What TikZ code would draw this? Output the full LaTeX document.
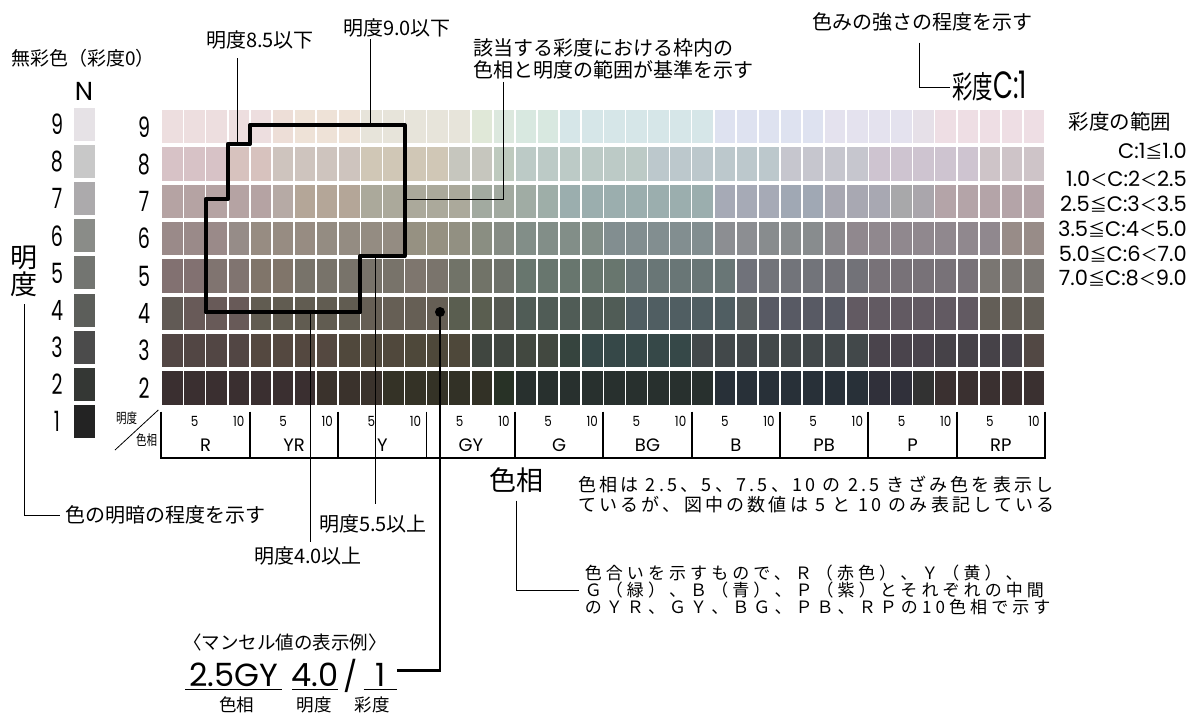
\documentclass[tikz,border=0pt]{standalone}
\usepackage{fontspec}
\setmainfont{Noto Sans CJK JP}
\newfontfamily\jp{Noto Sans CJK JP}
\newfontfamily\jpc[FakeStretch=0.75]{Noto Sans CJK JP}
\newfontfamily\jpcc[FakeStretch=0.66]{Noto Sans CJK JP}
\newfontfamily\jpt[LetterSpace=18]{Noto Sans CJK JP}
\newfontfamily\jpu[LetterSpace=24]{Noto Sans CJK JP}
\newfontfamily\fut{Poppins}
\newfontfamily\futc[FakeStretch=0.68]{Poppins}
\newfontfamily\futm[FakeStretch=0.85]{Poppins}
\newcommand\fsz[2]{\fontsize{#1}{#2}\selectfont}
\newcommand\myle{{\jp\fsz{17}{17}≦}}
\newcommand\mylt{{\jp\fsz{17}{17}＜}}
\tikzset{
  lbl/.style={inner sep=0pt, font=\jp\fsz{20}{22}},
  numb/.style={inner sep=0pt, font=\futc\fsz{28}{28}},
  lead/.style={line width=1pt},
  axisl/.style={line width=1.8pt},
  rng/.style={anchor=east, inner sep=0pt, font=\fut\fsz{21}{21}},
  huel/.style={inner sep=0pt, font=\fut\fsz{18}{18}},
  tick/.style={inner sep=0pt, font=\futm\fsz{14}{14}},
  big/.style={inner sep=0pt, font=\fut\fsz{32}{32}},
}
\begin{document}
\begin{tikzpicture}[x=1pt,y=-1pt]
\useasboundingbox (0,0) rectangle (1189,713);
\fill[white] (0,0) rectangle (1189,713);

% ---------- colour grid ----------
\foreach \v/\segs in {
 9/{0/4/EDDEDF,5/5/EDDED7,6/8/EEE2D7,9/13/E7E4DA,14/14/E0E8D8,15/15/DCE8DE,16/17/D8E8E0,18/24/D6E6E8,25/29/DEE2F0,30/33/E4E2EE,34/34/E6E0E8,35/39/EEDEE4},
 8/{0/2/D7C2C6,3/4/D7C2BE,5/8/CEC4BE,9/12/D0C7B6,13/14/C6C6BE,15/15/BECABE,16/21/BCCAC6,22/27/BCC8CC,28/31/C6C6CE,32/36/CEC4D0,37/39/CEC4C8},
 7/{0/4/B5A3A3,5/5/B6AAA5,6/8/B4A698,9/13/ABA99B,14/15/A2AAA0,16/16/A0ACA4,17/17/9EAEA8,18/24/9BAEAE,25/27/A6AAB6,28/29/A0A8B4,30/32/A8A8B2,33/33/A8A8AA,34/34/AAA6AC,35/39/B4A4A8},
 6/{0/2/9A8A89,3/3/968C88,4/6/978C82,7/10/948C82,11/12/969182,13/13/929082,14/14/8A8E82,15/15/868C84,16/19/828E88,20/24/828E90,25/26/8C8E92,27/29/888C8E,30/30/8C8A8E,31/37/90888E,38/39/988C88},
 5/{0/1/827171,2/3/807470,4/5/80756A,6/10/78736A,11/11/7E766E,12/12/7A746C,13/14/717368,15/15/6E726A,16/20/68766E,21/25/697676,26/26/70727A,27/29/72747A,30/31/727278,32/36/787278,37/39/7A7672},
 4/{0/0/615A55,1/3/685A58,4/8/615C51,9/12/665F55,13/14/5A5E50,15/15/565A52,16/20/505C56,21/25/505E62,26/26/585E60,27/30/585A64,31/36/625A62,37/39/635E57},
 3/{0/3/524644,4/7/544840,8/10/50483C,11/13/4E483A,14/15/404640,16/17/424840,18/18/36443E,19/23/364848,24/31/42484A,32/34/4A444C,35/38/464248,39/39/524844},
 2/{0/6/3A2F30,7/9/3A322C,10/12/343226,13/14/323126,15/15/283226,16/24/28302E,25/31/283038,32/33/30303A,34/34/323232,35/39/3A3030}}{
  \pgfmathsetmacro\yt{110+(9-\v)*37.3}
  \pgfmathsetmacro\yb{\yt+33.4}
  \foreach \a/\b/\h in \segs {
    \edef\tmp{\noexpand\definecolor{cc}{HTML}{\h}}\tmp
    \foreach \k in {\a,...,\b} {
      \pgfmathsetmacro\xa{161.5+22.09*\k+0.8}
      \pgfmathsetmacro\xb{\xa+20.49}
      \fill[cc] (\xa,\yt) rectangle (\xb,\yb);
    }
  }
}

% ---------- achromatic column ----------
\foreach \n/\h in {9/E6E2E6,8/C8C8C8,7/ACAAAC,6/8A8C88,5/737571,4/5C5E5A,3/4B4B4B,2/343734,1/232323}{
  \edef\tmp{\noexpand\definecolor{cc}{HTML}{\h}}\tmp
  \pgfmathsetmacro\yt{108+(9-\n)*37.1}
  \fill[cc] (74,\yt) rectangle (95,{\yt+33});
  \node[numb] (nn\n) at (57,{\yt+16.5}) {\n};
}
\foreach \v in {9,...,2}{
  \node[numb] (gn\v) at (144,{126.7+(9-\v)*37.3}) {\v};
}
\node[inner sep=0pt, font=\fut\fsz{26}{26}] (nlab) at (84,91) {N};
\node[lbl, font=\jp\fsz{19}{19}] (achro) at (83,58) {無彩色（彩度0）};

% ---------- big labels left ----------
\node[inner sep=0pt, align=center, font=\jp\fsz{27}{27}] (ld) at (24,271.5) {明\\度};
\node[lbl, anchor=west] (tld) at (65,515) {色の明暗の程度を示す};
\draw[lead] ([yshift=-7pt]ld.south) |- ([xshift=-5pt]tld.west);

% ---------- axis ----------
\draw[axisl] (161,411.7) -- (161,457.7) -- (1046,457.7);
\foreach \h in {1,...,10}{
  \draw[axisl] ({161.5+88.36*\h},411.7) -- ({161.5+88.36*\h},457.7);
}
\foreach \nm [count=\i from 0] in {R,YR,Y,GY,G,BG,B,PB,P,RP}{
  \node[huel] (hue\i) at ({161.5+88.36*(\i+0.5)},445) {\nm};
  \node[tick] (five\i) at ({161.5+88.36*\i+22.09*1.5},421.7) {5};
  \node[tick] (ten\i) at ({161.5+88.36*\i+22.09*3.5},421.7) {10};
}
\node[inner sep=0pt, font=\jpc\fsz{14}{14}] (hm) at (126.5,418.5) {明度};
\node[inner sep=0pt, font=\jpc\fsz{14}{14}] (hc) at (146.5,440.5) {色相};
\coordinate (dg1) at (115,450);
\coordinate (dg2) at (158.3,410);
\draw[line width=0.8pt] (dg1) -- (dg2);

% ---------- outline ----------
\draw[line width=4pt, line join=round]
  (250,125) -- (404.5,125) -- (404.5,256) -- (360.3,256) -- (360.3,312.3)
  -- (205.7,312.3) -- (205.7,199) -- (227.8,199) -- (227.8,144) -- (250,144) -- cycle;

% ---------- top labels ----------
\node[lbl] (l85) at (260,40) {明度8.5以下};
\coordinate (o85) at (237.7,144);
\draw[lead, shorten <=9pt] (l85.south -| o85) -- (o85);

\node[lbl] (l90) at (397,28) {明度9.0以下};
\coordinate (o90) at (370,125);
\draw[lead, shorten <=2pt] (l90.south -| o90) -- (o90);

\node[lbl, anchor=north west, align=left] (lq) at (473,38) {該当する彩度における枠内の\\色相と明度の範囲が基準を示す};
\coordinate (qx) at (503.3,199);
\coordinate (o70) at (404.5,199);
\draw[lead, shorten <=3pt] (lq.south -| qx) -- (qx) -- (o70);

\node[lbl] (tm) at (922,22) {色みの強さの程度を示す};
\node[inner sep=0pt, anchor=west] (c1) at (952,86) {{\jpcc\fsz{31}{31}彩度}{\futc\fsz{38}{38}C:1}};
\coordinate (cm) at (919.3,87);
\draw[lead, shorten <=11pt] (tm.south -| cm) -- (cm) -- ([xshift=-2pt]c1.west |- cm);

% ---------- chroma ranges ----------
\node[lbl, font=\jp\fsz{20.5}{20.5}] (rt) at (1120,122) {彩度の範囲};
\node[rng] (r1) at (1187,151) {C:1\myle1.0};
\node[rng] (r2) at (1187,179) {1.0\mylt C:2\mylt2.5};
\node[rng] (r3) at (1187,204) {2.5\myle C:3\mylt3.5};
\node[rng] (r4) at (1187,229) {3.5\myle C:4\mylt5.0};
\node[rng] (r5) at (1187,254) {5.0\myle C:6\mylt7.0};
\node[rng] (r6) at (1187,278) {7.0\myle C:8\mylt9.0};

% ---------- hue explanation ----------
\node[inner sep=0pt, font=\jp\fsz{27}{27}] (hs) at (516,480) {色相};
\node[inner sep=0pt, anchor=west, align=left, font=\jpt\fsz{18}{20}] (hx) at (578,494)
  {色相は 2.5、5、7.5、10 の 2.5 きざみ色を表示し\\ているが、図中の数値は 5 と 10 のみ表記している};
\node[inner sep=0pt, anchor=west, align=left, font=\jpu\fsz{17}{17}] (hy) at (584.6,590)
  {色合いを示すもので、Ｒ（赤色）、Ｙ（黄）、\\Ｇ（緑）、Ｂ（青）、Ｐ（紫）とそれぞれの中間\\のＹＲ、ＧＹ、ＢＧ、ＰＢ、ＲＰの10色相で示す};
\draw[lead] ([yshift=-8pt]hs.south) |- ([xshift=-6pt]hy.west);

% ---------- lower leaders ----------
\node[lbl] (l40) at (308,556) {明度4.0以上};
\coordinate (o40) at (310,312.3);
\draw[lead, shorten >=5pt] (o40) -- (o40 |- l40.north);

\node[lbl] (l55) at (373,524) {明度5.5以上};
\coordinate (o55) at (375,256);
\draw[lead, shorten >=11pt] (o55) -- (o55 |- l55.north);

% ---------- Munsell example ----------
\node[lbl, font=\jp\fsz{18.5}{18.5}] (mex) at (285,642) {〈マンセル値の表示例〉};
\node[big] (m1) at (233.5,675) {2.5GY};
\node[big] (m2) at (314.8,675) {4.0};
\node[big, font=\fut\fsz{30}{30}] (msl) at (351,676) {/};
\node[big] (m3) at (380.5,675) {1};
\draw[line width=1.3pt] (185,689.3) -- (282,689.3);
\draw[line width=1.3pt] (292,689.3) -- (337.5,689.3);
\draw[line width=1.3pt] (363.6,689.3) -- (397,689.3);
\node[lbl, font=\jp\fsz{17.5}{17.5}] (u1) at (236.5,705) {色相};
\node[lbl, font=\jp\fsz{17.5}{17.5}] (u2) at (314,705) {明度};
\node[lbl, font=\jp\fsz{17.5}{17.5}] (u3) at (372,705) {彩度};

\node[circle, fill=black, inner sep=0pt, minimum size=10pt] (dot) at (440,312) {};
\coordinate (m3r) at (397,670.7);
\draw[line width=2.7pt] (dot.center) |- (m3r);
\end{tikzpicture}
\end{document}
